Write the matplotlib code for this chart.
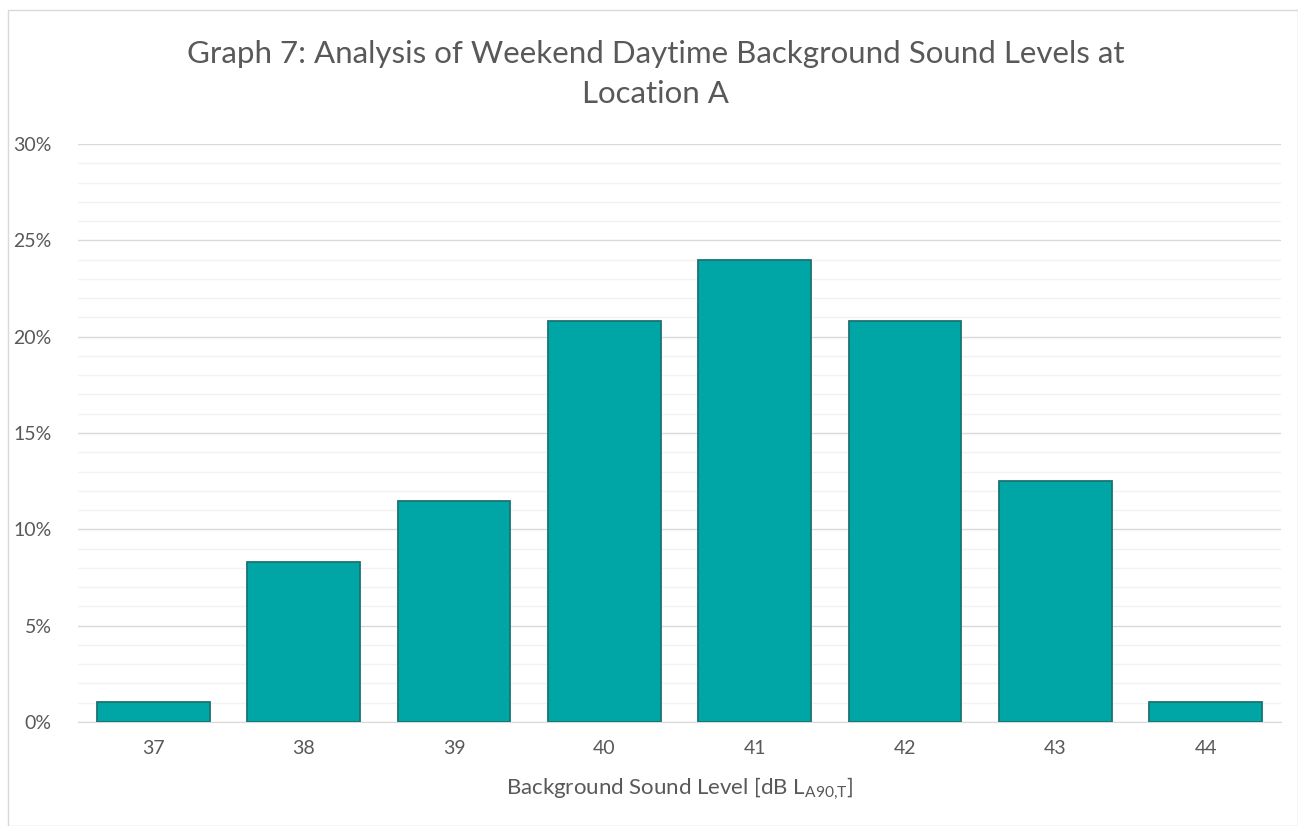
import matplotlib
matplotlib.use("Agg")
import matplotlib.pyplot as plt
from matplotlib.patches import Rectangle
from matplotlib.ticker import MultipleLocator, PercentFormatter
import numpy as np

# Distribution of background sound levels (share of measurement periods)
levels = ["37", "38", "39", "40", "41", "42", "43", "44"]
shares = [1.04, 8.33, 11.46, 20.83, 23.96, 20.83, 12.50, 1.04]

TEXT = "#595959"
BAR = "#00A6A6"
EDGE = "#1B7373"

plt.rcParams["font.family"] = ["Lato", "DejaVu Sans"]
plt.rcParams["mathtext.fontset"] = "custom"
plt.rcParams["mathtext.rm"] = "Lato"

fig = plt.figure(figsize=(12.98, 8.26), dpi=100)
ax = fig.add_axes([78 / 1298, 1 - 722 / 826, 1203 / 1298, 578 / 826])

x = np.arange(len(levels))
ax.bar(x, shares, width=0.75, color=BAR, edgecolor=EDGE, linewidth=1.3, zorder=3)

ax.set_xlim(-0.5, len(levels) - 0.5)
ax.set_ylim(0, 30)
ax.yaxis.set_major_locator(MultipleLocator(5))
ax.yaxis.set_minor_locator(MultipleLocator(1))
ax.yaxis.set_major_formatter(PercentFormatter(decimals=0))
ax.grid(axis="y", which="major", color="#D9D9D9", linewidth=1, zorder=0)
ax.grid(axis="y", which="minor", color="#F2F2F2", linewidth=1, zorder=0)

ax.set_xticks(x)
ax.set_xticklabels(levels)
ax.tick_params(axis="both", which="both", length=0, colors=TEXT, labelsize=14)
ax.tick_params(axis="x", pad=13)
ax.tick_params(axis="y", pad=19)
for side in ["left", "right", "top"]:
    ax.spines[side].set_visible(False)
ax.spines["bottom"].set_color("#D9D9D9")

ax.set_xlabel(r"Background Sound Level [dB L$_{\mathregular{A90{,}T}}$]",
              fontsize=16, color=TEXT, labelpad=13)

fig.text(0.505, 1 - 74 / 826,
         "Graph 7: Analysis of Weekend Daytime Background Sound Levels at\nLocation A",
         ha="center", va="center", fontsize=22.5, color=TEXT, linespacing=1.5)

# light frame round the whole chart area
fig.patches.append(Rectangle((8 / 1298, 0), 1 - 8 / 1298, 1 - 10 / 826,
                             transform=fig.transFigure, fill=False,
                             edgecolor="#D9D9D9", linewidth=1))

fig.savefig("out.png", dpi=100)
